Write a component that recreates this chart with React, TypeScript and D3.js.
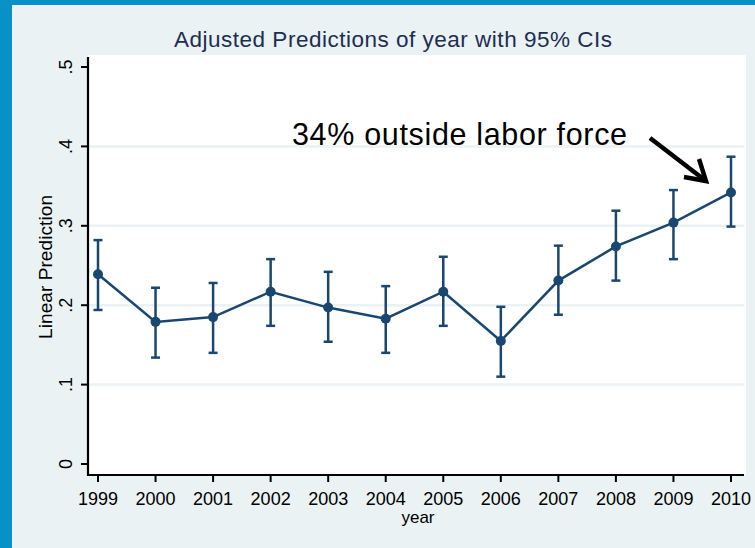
import React from "react";
import * as d3 from "d3";

const years = [1999, 2000, 2001, 2002, 2003, 2004, 2005, 2006, 2007, 2008, 2009, 2010];
const predictions = [0.239, 0.179, 0.185, 0.217, 0.197, 0.183, 0.217, 0.155, 0.231, 0.274, 0.304, 0.342];
const lowerCI = [0.194, 0.134, 0.140, 0.174, 0.154, 0.140, 0.174, 0.110, 0.188, 0.231, 0.258, 0.299];
const upperCI = [0.282, 0.222, 0.228, 0.258, 0.242, 0.224, 0.261, 0.198, 0.275, 0.319, 0.345, 0.387];
const yTicks = [0, 0.1, 0.2, 0.3, 0.4, 0.5];
const yTickLabels = ["0", ".1", ".2", ".3", ".4", ".5"];
const gridTicks = [0.1, 0.2, 0.3, 0.4];

const titleText = "Adjusted Predictions of year with 95% CIs";
const xTitle = "year";
const yTitle = "Linear Prediction";
const annotation = "34% outside labor force";

const FONT = "'Liberation Sans', Arial, Helvetica, sans-serif";
const NAVY = "#1a476f";
const BG = "#eaf2f3";

export default function App() {
  const W = 755, H = 548;
  const x = d3.scaleLinear().domain([1999, 2010]).range([98, 731]);
  const y = d3.scaleLinear().domain([0, 0.5]).range([464, 67]);
  const plot = { left: 88, top: 55, right: 746, bottom: 475 };

  const data = years.map((yr, i) => ({ yr, p: predictions[i], lo: lowerCI[i], hi: upperCI[i] }));
  const line = d3.line<typeof data[0]>().x(d => x(d.yr)).y(d => y(d.p));

  const arrowStart: [number, number] = [650, 138];
  const arrowEnd: [number, number] = [706, 181];

  return (
    <svg width={W} height={H} style={{ position: "absolute", left: 0, top: 0, display: "block" }}>
      <rect x={0} y={0} width={W} height={H} fill="#0891c6" />
      <rect x={12} y={5} width={W - 12} height={H - 5} fill={BG} />
      <rect x={plot.left} y={plot.top} width={plot.right - plot.left} height={plot.bottom - plot.top} fill="#ffffff" />

      {gridTicks.map(t => (
        <line key={t} x1={plot.left} x2={plot.right - 2} y1={y(t)} y2={y(t)} stroke={BG} strokeWidth={2.5} />
      ))}

      <text x={393} y={47} textAnchor="middle" fontFamily={FONT} fontSize={22.5} fill="#1e2d52"
        textLength={438} lengthAdjust="spacing">{titleText}</text>

      {/* axes */}
      <line x1={plot.left} x2={plot.left} y1={57} y2={plot.bottom + 1} stroke="#000" strokeWidth={2.2} />
      <line x1={plot.left - 1} x2={744} y1={plot.bottom} y2={plot.bottom} stroke="#000" strokeWidth={2.2} />

      {yTicks.map((t, i) => (
        <g key={t}>
          <line x1={plot.left - 7} x2={plot.left} y1={y(t)} y2={y(t)} stroke="#000" strokeWidth={2} />
          <text transform={`translate(72,${y(t)}) rotate(-90)`} textAnchor="middle" fontFamily={FONT}
            fontSize={18} fill="#000">{yTickLabels[i]}</text>
        </g>
      ))}

      {years.map(yr => (
        <g key={yr}>
          <line x1={x(yr)} x2={x(yr)} y1={plot.bottom} y2={plot.bottom + 7} stroke="#000" strokeWidth={2} />
          <text x={x(yr)} y={505} textAnchor="middle" fontFamily={FONT} fontSize={18} fill="#000">{yr}</text>
        </g>
      ))}

      <text x={418} y={523} textAnchor="middle" fontFamily={FONT} fontSize={17} fill="#000">{xTitle}</text>
      <text transform={`translate(52,267) rotate(-90)`} textAnchor="middle" fontFamily={FONT} fontSize={19}
        fill="#000" textLength={144} lengthAdjust="spacing">{yTitle}</text>

      {/* error bars */}
      {data.map(d => (
        <g key={d.yr} stroke={NAVY} strokeWidth={2.5}>
          <line x1={x(d.yr)} x2={x(d.yr)} y1={y(d.lo)} y2={y(d.hi)} />
          <line x1={x(d.yr) - 4.5} x2={x(d.yr) + 4.5} y1={y(d.lo)} y2={y(d.lo)} />
          <line x1={x(d.yr) - 4.5} x2={x(d.yr) + 4.5} y1={y(d.hi)} y2={y(d.hi)} />
        </g>
      ))}

      <path d={line(data) || ""} fill="none" stroke={NAVY} strokeWidth={2.5} />
      {data.map(d => (
        <circle key={d.yr} cx={x(d.yr)} cy={y(d.p)} r={5} fill={NAVY} />
      ))}

      {/* annotation */}
      <text x={292} y={145} fontFamily={FONT} fontSize={30.5} fill="#000" textLength={335}
        lengthAdjust="spacing">{annotation}</text>
      <line x1={arrowStart[0]} y1={arrowStart[1]} x2={arrowEnd[0] - 2} y2={arrowEnd[1] - 1.5}
        stroke="#000" strokeWidth={4.5} />
      <polyline points={`684,177 ${arrowEnd[0]},${arrowEnd[1]} 699,159`} fill="none" stroke="#000"
        strokeWidth={4.5} strokeLinejoin="miter" />
    </svg>
  );
}
